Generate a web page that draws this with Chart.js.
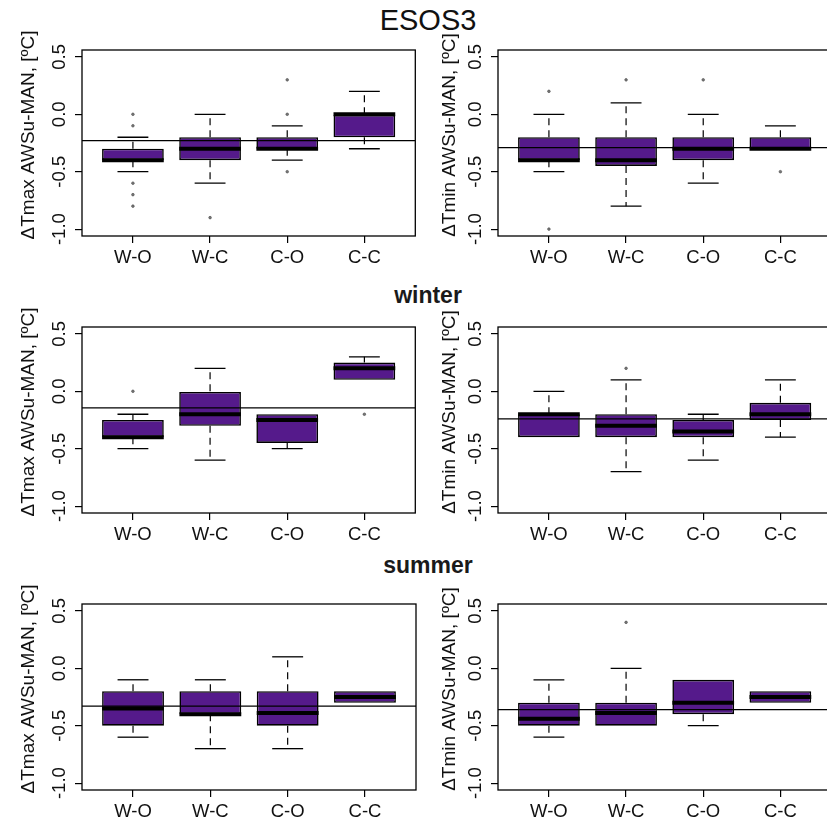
<!DOCTYPE html>
<html>
<head>
<meta charset="utf-8">
<script src="https://cdn.jsdelivr.net/npm/chart.js@4.4.1/dist/chart.umd.min.js"></script>
<style>
  html, body { margin: 0; padding: 0; background: #fff; overflow: hidden; }
  body { width: 827px; height: 823px; position: relative; font-family: "Liberation Sans", Arial, sans-serif; }
  canvas { position: absolute; }
  .title { position: absolute; left: 0; width: 856px; text-align: center; color: #111; white-space: nowrap; }
  .main { font-size: 29px; line-height: 29px; }
  .season { font-size: 23px; line-height: 23px; font-weight: bold; color: #1a1a1a; }
</style>
</head>
<body>
<script>
// --- Data ---
const categories = ['W-O', 'W-C', 'C-O', 'C-C'];
const rowTitles = ['ESOS3', 'winter', 'summer'];
const yLabels = ['ΔTmax AWSu-MAN, [ºC]', 'ΔTmin AWSu-MAN, [ºC]'];
const yTicks = [-1.0, -0.5, 0.0, 0.5];

// panel order: Tmax all, Tmin all, Tmax winter, Tmin winter, Tmax summer, Tmin summer
const whiskerLow = [
    [-0.5, -0.6, -0.4, -0.3],
    [-0.5, -0.8, -0.6, -0.3],
    [-0.5, -0.6, -0.5, 0.1],
    [-0.4, -0.7, -0.6, -0.4],
    [-0.6, -0.7, -0.7, -0.3],
    [-0.6, -0.5, -0.5, -0.3]
];
const lowerQuart = [
    [-0.4, -0.4, -0.3, -0.2],
    [-0.4, -0.45, -0.4, -0.3],
    [-0.4, -0.3, -0.45, 0.1],
    [-0.4, -0.4, -0.4, -0.25],
    [-0.5, -0.4, -0.5, -0.3],
    [-0.5, -0.5, -0.4, -0.3]
];
const medians = [
    [-0.4, -0.3, -0.3, 0.0],
    [-0.4, -0.4, -0.3, -0.3],
    [-0.4, -0.2, -0.25, 0.2],
    [-0.2, -0.3, -0.35, -0.2],
    [-0.35, -0.4, -0.39, -0.25],
    [-0.44, -0.39, -0.3, -0.25]
];
const upperQuart = [
    [-0.3, -0.2, -0.2, 0.0],
    [-0.2, -0.2, -0.2, -0.2],
    [-0.25, 0.0, -0.2, 0.25],
    [-0.2, -0.2, -0.25, -0.1],
    [-0.2, -0.2, -0.2, -0.2],
    [-0.3, -0.3, -0.1, -0.2]
];
const whiskerHigh = [
    [-0.2, 0.0, -0.1, 0.2],
    [0.0, 0.1, 0.0, -0.1],
    [-0.2, 0.2, -0.2, 0.3],
    [0.0, 0.1, -0.2, 0.1],
    [-0.1, -0.1, 0.1, -0.2],
    [-0.1, 0.0, -0.1, -0.2]
];
const outliers = [
    [[0.0, -0.1, -0.6, -0.7, -0.8], [-0.9], [0.3, 0.0, -0.5], []],
    [[0.2, -1.0], [0.3], [0.3], [-0.5]],
    [[0.0], [], [], [-0.2]],
    [[], [0.2], [], []],
    [[], [], [], []],
    [[], [0.4], [], []]
];
const refLines = [-0.23, -0.29, -0.145, -0.24, -0.33, -0.36];

// --- Look ---
const FONT = '"Liberation Sans", Arial, sans-serif';
const BOX_FILL = '#551A8B';
const X_MIN = 0.34, X_MAX = 4.66;   // R: 0.5..4.5 plus 4%
const Y_MIN = -1.06, Y_MAX = 0.56;  // R: -1..0.5 plus 4%
const colLeft = [0, 416];
const rowTop = [5, 282, 559];
const titleTop = [6, 284, 554];
const yTitleX = [29, 34];

// half width in px of something w units wide on the x scale
function halfPx(chart, w) {
    const xs = chart.scales.x;
    return Math.abs(xs.getPixelForValue(1 + w / 2) - xs.getPixelForValue(1));
}

// frame + rotated y labels like R's default axes
const rFrame = {
    id: 'rFrame',
    afterDraw(chart, args, opts) {
        const { ctx, chartArea: a, scales } = chart;
        ctx.save();
        ctx.strokeStyle = '#000';
        ctx.lineWidth = 1.3;
        ctx.strokeRect(a.left, a.top, a.right - a.left, a.bottom - a.top);

        ctx.fillStyle = '#111';
        ctx.font = '18.5px ' + FONT;
        ctx.textAlign = 'center';
        ctx.textBaseline = 'middle';
        yTicks.forEach(v => {
            ctx.save();
            ctx.translate(60, scales.y.getPixelForValue(v));
            ctx.rotate(-Math.PI / 2);
            ctx.fillText(v.toFixed(1), 0, 0);
            ctx.restore();
        });

        ctx.font = '19px ' + FONT;
        ctx.translate(opts.titleX, (a.top + a.bottom) / 2 - 8);
        ctx.rotate(-Math.PI / 2);
        ctx.fillText(opts.label, 0, 0);
        ctx.restore();
    }
};

function makePanel(p) {
    const row = Math.floor(p / 2), col = p % 2;
    const canvas = document.createElement('canvas');
    canvas.width = 420;
    canvas.height = 271;
    canvas.style.left = colLeft[col] + 'px';
    canvas.style.top = rowTop[row] + 'px';
    document.body.appendChild(canvas);

    const boxes = [], whiskers = [], caps = [], meds = [], outs = [];
    categories.forEach((c, i) => {
        const x = i + 1;
        boxes.push({ x, y: [lowerQuart[p][i], upperQuart[p][i]] });
        meds.push({ x, y: medians[p][i] });
        whiskers.push({ x, y: upperQuart[p][i] }, { x, y: whiskerHigh[p][i] }, { x, y: null });
        whiskers.push({ x, y: lowerQuart[p][i] }, { x, y: whiskerLow[p][i] }, { x, y: null });
        if (whiskerHigh[p][i] > upperQuart[p][i]) caps.push({ x, y: whiskerHigh[p][i] });
        if (whiskerLow[p][i] < lowerQuart[p][i]) caps.push({ x, y: whiskerLow[p][i] });
        outliers[p][i].forEach(v => outs.push({ x, y: v }));
    });
    const ref = [{ x: X_MIN, y: refLines[p] }, { x: X_MAX, y: refLines[p] }];

    const gridOpts = { display: true, drawOnChartArea: false, drawTicks: true, tickLength: 7, color: '#000', lineWidth: 1.2, offset: false };

    new Chart(canvas, {
        type: 'bar',
        data: {
            datasets: [
                { type: 'line', data: ref, borderColor: '#000', borderWidth: 1.2, pointRadius: 0, order: 1 },
                { type: 'line', data: outs, showLine: false, pointStyle: 'circle', pointRadius: 1.3,
                  pointBackgroundColor: '#777', pointBorderColor: '#555', pointBorderWidth: 0.7, order: 2 },
                { type: 'line', data: meds, showLine: false, pointStyle: 'line',
                  pointRadius: ctx => halfPx(ctx.chart, 0.8), pointBorderColor: '#000', pointBorderWidth: 4, order: 3 },
                { type: 'line', data: caps, showLine: false, pointStyle: 'line',
                  pointRadius: ctx => halfPx(ctx.chart, 0.4), pointBorderColor: '#000', pointBorderWidth: 1.3, order: 4 },
                { type: 'line', data: whiskers, spanGaps: false, borderColor: '#000', borderWidth: 1.2,
                  borderDash: [7, 5], pointRadius: 0, order: 5 },
                { type: 'bar', data: boxes, backgroundColor: BOX_FILL, borderColor: '#000', borderWidth: 1.6,
                  borderSkipped: false, categoryPercentage: 0.8, barPercentage: 1, order: 6 }
            ]
        },
        options: {
            responsive: false,
            animation: false,
            events: [],
            devicePixelRatio: 1,
            layout: { padding: { top: 45, right: 4, left: 0, bottom: 0 } },
            plugins: {
                legend: { display: false },
                tooltip: { enabled: false },
                rFrame: { label: yLabels[col], titleX: yTitleX[col] }
            },
            scales: {
                x: {
                    type: 'linear', min: X_MIN, max: X_MAX, offset: false,
                    grid: gridOpts,
                    border: { display: false },
                    ticks: {
                        font: { family: FONT, size: 18.5 }, color: '#111', padding: 4,
                        autoSkip: false, maxRotation: 0,
                        callback: v => categories[v - 1] || ''
                    },
                    afterBuildTicks: a => { a.ticks = categories.map((c, i) => ({ value: i + 1 })); },
                    afterFit: a => { a.height = 40; }
                },
                y: {
                    type: 'linear', min: Y_MIN, max: Y_MAX,
                    grid: gridOpts,
                    border: { display: false },
                    ticks: { display: false },
                    afterBuildTicks: a => { a.ticks = yTicks.map(v => ({ value: v })); },
                    afterFit: a => { a.width = 82; }
                }
            }
        },
        plugins: [rFrame]
    });
}

// titles
rowTitles.forEach((t, r) => {
    const d = document.createElement('div');
    d.className = 'title ' + (r === 0 ? 'main' : 'season');
    d.style.top = titleTop[r] + 'px';
    d.textContent = t;
    document.body.appendChild(d);
});

for (let p = 0; p < 6; p++) makePanel(p);
</script>
</body>
</html>
